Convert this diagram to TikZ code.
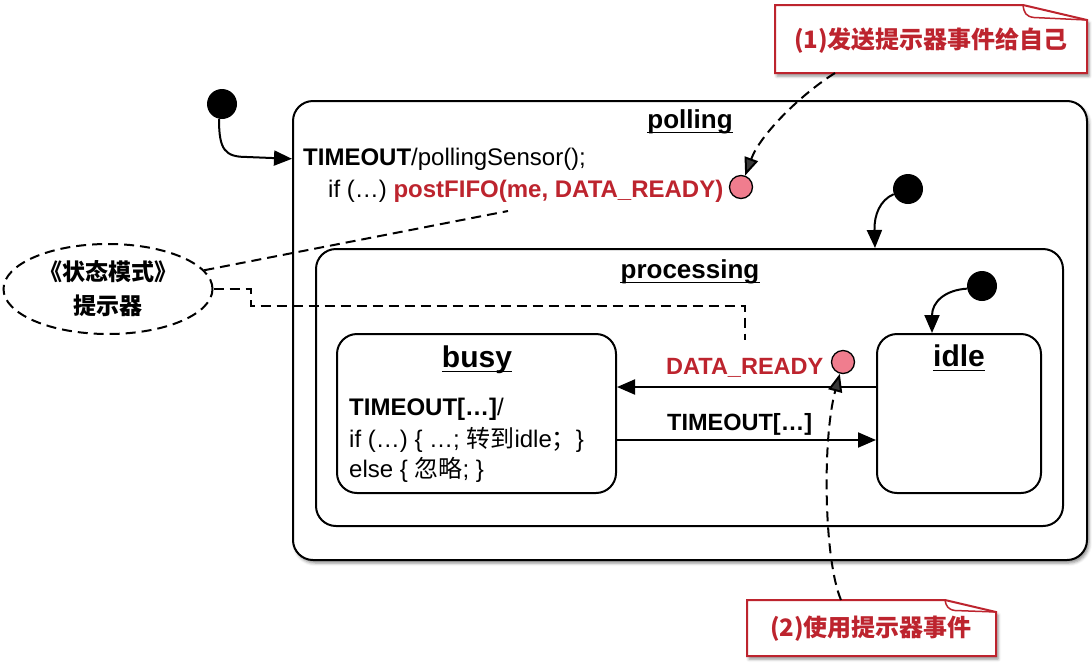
\documentclass[tikz,border=0pt]{standalone}
\usepackage{fontspec}
\setmainfont{Liberation Sans}
\newfontfamily\cjk{Noto Sans CJK SC}
\usetikzlibrary{arrows.meta,shapes.geometric,shadows.blur,calc}
\definecolor{qred}{RGB}{189,36,46}
\definecolor{qpink}{RGB}{240,125,142}
\newcommand\fs[1]{\fontsize{#1}{#1}\selectfont}
\begin{document}
\begin{tikzpicture}[x=1pt,y=-1pt,
  statebox/.style={draw, line width=2pt, rounded corners=20pt, inner sep=0pt, fill=white},
  softshadow/.style={blur shadow={shadow xshift=2pt,shadow yshift=-3pt,shadow blur radius=3pt,shadow opacity=45}},
  arr/.style={line width=2pt, -{Triangle[length=18pt,width=15pt]}},
  darr/.style={line width=2pt, dash pattern=on 10pt off 6pt, -{Triangle[length=18pt,width=14pt]}},
  dline/.style={line width=2pt, dash pattern=on 10pt off 6pt},
  initdot/.style={circle, fill=black, inner sep=0pt, minimum size=30pt},
  evdot/.style={circle, draw=black, line width=1.3pt, fill=qpink, inner sep=0pt, minimum size=23pt},
  title/.style={anchor=base, inner sep=0pt, font=\fs{26}\bfseries},
  bigtitle/.style={anchor=base, inner sep=0pt, font=\fs{30}\bfseries},
  txt/.style={anchor=base west, inner sep=0pt, font=\fs{24}},
  callout/.style={draw=qred, line width=2pt, fill=white, line join=miter, softshadow},
  callfold/.style={draw=qred, line width=1.5pt, line join=round},
  callouttext/.style={font=\cjk\bfseries\fs{24}, text=qred, inner sep=0pt},
]
\useasboundingbox (0,0) rectangle (1092,662);

% state boxes
\node[statebox, softshadow, minimum width=794pt, minimum height=459pt] (polling) at (690,330.5) {};
\node[statebox, minimum width=747pt, minimum height=277pt] (processing) at (689.5,387.5) {};
\node[statebox, minimum width=279pt, minimum height=159pt] (busy) at (476.5,413.5) {};
\node[statebox, minimum width=164pt, minimum height=159pt] (idle) at (959,413.5) {};

% titles
\node[title] (tpoll) at (690,128) {polling};
\node[title] (tproc) at (690,278) {processing};
\node[bigtitle] (tbusy) at (477,367) {busy};
\node[bigtitle] (tidle) at (959,366) {idle};
\foreach \t in {tpoll,tproc,tbusy,tidle}
  \draw[line width=1.8pt] ([yshift=-4.5pt]\t.base west) -- ([yshift=-4.5pt]\t.base east);

% polling actions
\node[txt] (act1) at (303,165) {\textbf{TIMEOUT}/pollingSensor();};
\node[txt] (act2) at (328,197) {if (…) \textcolor{qred}{\textbf{postFIFO(me, DATA\_READY)}}};

% busy actions
\node[txt] (b1) at (349,415) {\textbf{TIMEOUT[…]}/};
\node[txt] (b2) at (349,447) {if (…) \{ …; {\cjk 转到}idle{\cjk ；}\}};
\node[txt] (b3) at (349,477) {else \{ {\cjk 忽略}; \}};

% initial pseudo-states
\node[initdot] (i1) at (222,104) {};
\node[initdot] (i2) at (908,189) {};
\node[initdot] (i3) at (982,286) {};

% event dots
\node[evdot] (p1) at (741,187) {};
\node[evdot] (p2) at (843,362) {};

% initial transitions
\draw[arr] ([xshift=-3pt]i1.south) .. controls (219,150) and (225,157) .. (247,157) -- (polling.west |- act1.west);
\draw[arr] (i2.200) .. controls (880,200) and (874,215) .. (875,0 |- processing.north);
\draw[arr] (i3.190) .. controls (945,290) and (932,302) .. (932,0 |- idle.north);

% transitions between busy and idle
\draw[arr] ([yshift=26.5pt]idle.west) -- ([yshift=26.5pt]busy.east);
\draw[arr] ([yshift=-26.5pt]busy.east) -- ([yshift=-26.5pt]idle.west);
\node[txt, font=\fs{23.5}\bfseries, text=qred] (ldr) at (666,374) {DATA\_READY};
\node[txt, font=\fs{23.5}\bfseries] (lto) at (667,430) {TIMEOUT[…]};

% note ellipse
\node[ellipse, draw, dline, minimum width=209pt, minimum height=90pt, inner sep=0pt, align=center,
      font={\cjk\bfseries\fontsize{23}{34}\selectfont}] (e) at (108,289) {《状态模式》\\提示器};
\coordinate (n1) at (508,211);
\coordinate (n2) at (745,340);
\draw[dline] (e) -- (n1);
\draw[dline] (e.east) -- ++(37,0) |- (745,306) -- (n2);

% callout 1
\draw[callout] (775,5) -- (1023,5) -- (1087,20) -- (1087,73) -- (775,73) -- cycle;
\draw[callfold] (1023,5) .. controls (1024,13) and (1026,16.5) .. (1034,17.5) -- (1087,20);
\node[callouttext] (c1) at (931,41) {(1)发送提示器事件给自己};
\coordinate (c1a) at (835,73);

% callout 2
\draw[callout] (747,600) -- (945,600) -- (996,612) -- (996,656) -- (747,656) -- cycle;
\draw[callfold] (945,600) .. controls (946,606) and (948,609.5) .. (955,610.5) -- (996,612);
\node[callouttext] (c2) at (871,629) {(2)使用提示器事件};
\coordinate (c2a) at (841,600);

% callout arrows
\draw[darr] (c1a) .. controls (800,95) and (760,135) .. (p1);
\draw[darr] (c2a) .. controls (824,560) and (822,440) .. (p2);
\end{tikzpicture}
\end{document}
